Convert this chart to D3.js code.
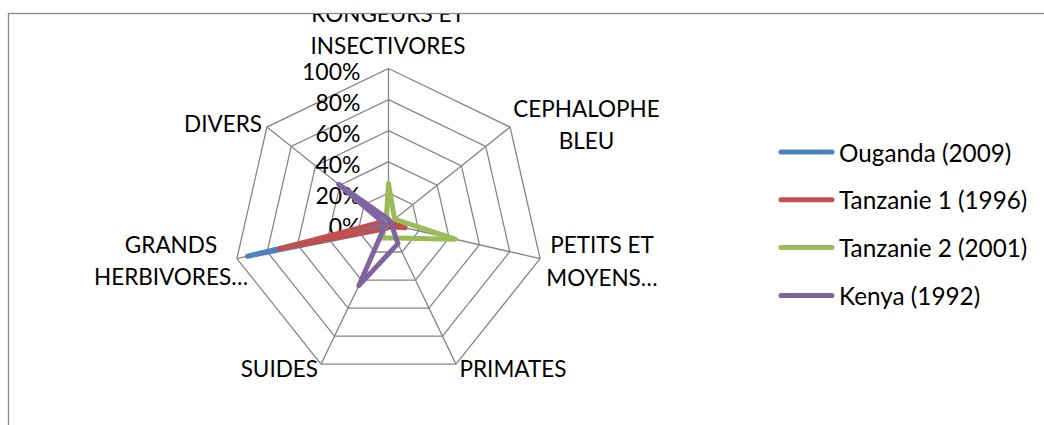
<!DOCTYPE html>
<html>
<head>
<meta charset="utf-8">
<script src="https://cdn.jsdelivr.net/npm/d3@7/dist/d3.min.js"></script>
<style>
  html, body { margin: 0; padding: 0; background: #fff; }
  svg { display: block; }
  text { font-family: Lato, "Open Sans", sans-serif; fill: #000; }
</style>
</head>
<body>
<svg id="chart" width="1044" height="425"></svg>
<script>
// Prey categories, clockwise from the top
const categories = [
  ["RONGEURS ET", "INSECTIVORES"],
  ["CEPHALOPHE", "BLEU"],
  ["PETITS ET", "MOYENS…"],
  ["PRIMATES"],
  ["SUIDES"],
  ["GRANDS", "HERBIVORES…"],
  ["DIVERS"]
];
const seriesNames = ["Ouganda (2009)", "Tanzanie 1 (1996)", "Tanzanie 2 (2001)", "Kenya (1992)"];
const ouganda   = [0.01, 0.01, 0.02, 0.02, 0.03, 0.93, 0.01];
const tanzanie1 = [0.03, 0.02, 0.11, 0.02, 0.03, 0.72, 0.03];
const tanzanie2 = [0.26, 0.05, 0.44, 0.10, 0.10, 0.02, 0.02];
const kenya     = [0.03, 0.01, 0.02, 0.14, 0.44, 0.02, 0.41];
const tickValues = [0, 0.2, 0.4, 0.6, 0.8, 1.0];
const tickLabels = ["0%", "20%", "40%", "60%", "80%", "100%"];
const colors = ["#4F81BD", "#C0504D", "#9BBB59", "#8064A2"];

const allSeries = [ouganda, tanzanie1, tanzanie2, kenya];

const svg = d3.select("#chart");
const cx = 388.5, cy = 224, R = 155.5;
const n = categories.length;

const r = d3.scaleLinear().domain([0, 1]).range([0, R]);
const angle = d3.scaleLinear().domain([0, n]).range([0, 2 * Math.PI]);

// outer frame of the chart area
svg.append("rect")
  .attr("x", 8.5).attr("y", 13.5)
  .attr("width", 1100).attr("height", 500)
  .attr("fill", "none").attr("stroke", "#888").attr("stroke-width", 1.3);

svg.append("clipPath").attr("id", "area")
  .append("rect").attr("x", 9).attr("y", 14).attr("width", 1100).attr("height", 500);

const plot = svg.append("g").attr("clip-path", "url(#area)");

// heptagonal grid rings
const ring = d3.lineRadial()
  .angle((d, i) => angle(i))
  .radius(d => r(d))
  .curve(d3.curveLinearClosed);

const grid = plot.append("g").attr("transform", `translate(${cx},${cy})`);
tickValues.slice(1).forEach(t => {
  grid.append("path")
    .attr("d", ring(d3.range(n).map(() => t)))
    .attr("fill", "none").attr("stroke", "#868686").attr("stroke-width", 1.3);
});
// spokes
d3.range(n).forEach(i => {
  grid.append("line")
    .attr("x1", 0).attr("y1", 0)
    .attr("x2", r(1) * Math.sin(angle(i)))
    .attr("y2", -r(1) * Math.cos(angle(i)))
    .attr("stroke", "#868686").attr("stroke-width", 1.3);
});

// value tick labels on the vertical axis
plot.append("g").selectAll("text")
  .data(tickValues)
  .join("text")
  .attr("x", cx - 28)
  .attr("y", d => cy - r(d) + 2)
  .attr("text-anchor", "end")
  .attr("dominant-baseline", "central")
  .style("font-size", "23px")
  .text((d, i) => tickLabels[i]);

// series polygons
const seriesG = plot.append("g").attr("transform", `translate(${cx},${cy})`);
allSeries.forEach((vals, k) => {
  seriesG.append("path")
    .attr("d", ring(vals))
    .attr("fill", "none")
    .attr("stroke", colors[k])
    .attr("stroke-width", 5)
    .attr("stroke-linejoin", "round")
    .attr("stroke-linecap", "round");
});

// category labels
const labelPos = [
  { x: 388, y: 45, anchor: "middle", lines: -1 },
  { x: 586.5, y: 107.5, anchor: "middle", lines: 0 },
  { x: 602, y: 244, anchor: "middle", lines: 0 },
  { x: 459.5, y: 368, anchor: "start", lines: 0 },
  { x: 318, y: 368, anchor: "end", lines: 0 },
  { x: 171, y: 243.5, anchor: "middle", lines: 0 },
  { x: 262, y: 123, anchor: "end", lines: 0 }
];
const lineH = 32.5;
categories.forEach((cat, i) => {
  const p = labelPos[i];
  const t = plot.append("text")
    .attr("text-anchor", p.anchor)
    .attr("dominant-baseline", "central")
    .style("font-size", "22.5px");
  cat.forEach((ln, j) => {
    t.append("tspan")
      .attr("x", p.x)
      .attr("y", p.y + (j + p.lines) * lineH)
      .text(ln);
  });
});

// legend
const legend = svg.append("g");
seriesNames.forEach((name, k) => {
  const y = 152 + k * 47.8;
  legend.append("line")
    .attr("x1", 781).attr("x2", 832)
    .attr("y1", y).attr("y2", y)
    .attr("stroke", colors[k]).attr("stroke-width", 5)
    .attr("stroke-linecap", "round");
  legend.append("text")
    .attr("x", 839).attr("y", y)
    .attr("dominant-baseline", "central")
    .style("font-size", "24.3px")
    .text(name);
});
</script>
</body>
</html>
